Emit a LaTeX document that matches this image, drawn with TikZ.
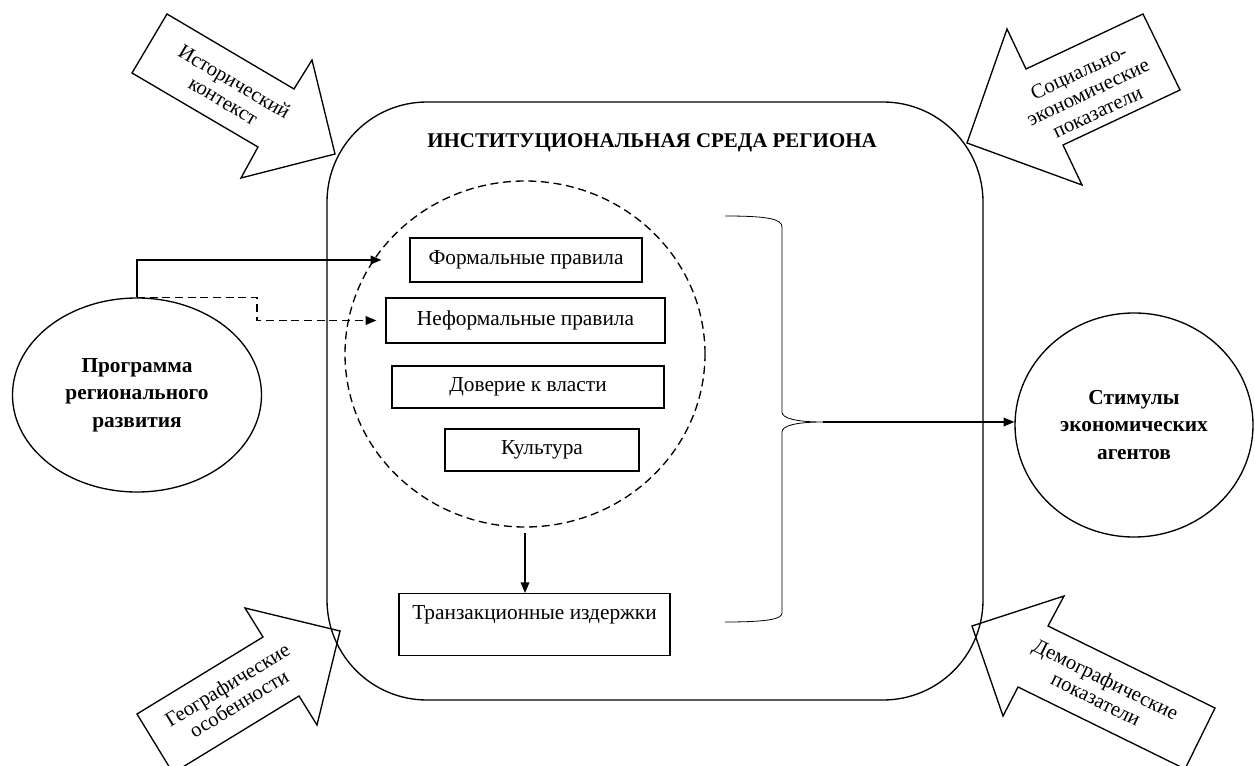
\documentclass[tikz,border=0pt]{standalone}
\usepackage{fontspec}
\setmainfont{Liberation Serif}
\usetikzlibrary{arrows.meta,shapes.geometric}
\begin{document}
\begin{tikzpicture}[x=0.75pt,y=-0.75pt,
  every node/.style={font=\fontsize{16}{19.5}\selectfont},
  line/.style={line width=1pt},
  box/.style={draw,line width=1pt,inner sep=0pt},
  ell/.style={draw,ellipse,line width=1pt,inner sep=0pt,align=center,font=\fontsize{16}{20.5}\selectfont\bfseries},
  barrow/.style={draw,line width=1pt,line join=miter,fill=white},
  atext/.style={align=center,font=\fontsize{15.5}{16.5}\selectfont},
  tip/.style={-{Triangle[length=8pt,width=6.5pt]}},
  dsh/.style={dash pattern=on 6pt off 3.5pt}
]
\useasboundingbox (0,0) rectangle (1255,766);

% block arrows
\draw[barrow] (167,14) -- (294,89) -- (312,60) -- (335,154) -- (241,178) -- (258,147) -- (132,73) -- cycle;
\node[atext,rotate=-30.6] (hist) at (229,91) {Исторический\\контекст};

\draw[barrow] (1143,14) -- (1180,90) -- (1063,145) -- (1082,185) -- (967,143) -- (1007,29) -- (1026,69) -- cycle;
\node[atext,rotate=25.2] (soc) at (1088,92) {Социально-\\экономические\\показатели};

\draw[barrow] (137,714) -- (263,637) -- (245,608) -- (340,631) -- (317,725) -- (299,696) -- (173,773) -- cycle;
\node[atext,rotate=31.4] (geo) at (233,694) {Географические\\особенности};

\draw[barrow] (972,626) -- (1064,596) -- (1048,626) -- (1215,708) -- (1185,769) -- (1018,687) -- (1003,716) -- cycle;
\node[atext,rotate=-26.2] (dem) at (1101,689) {Демографические\\показатели};

% frame
\draw[line,rounded corners=75pt] (327,102) rectangle (983,700);
\node[font=\fontsize{15.7}{18}\selectfont\bfseries] (title) at (652,143) {ИНСТИТУЦИОНАЛЬНАЯ СРЕДА РЕГИОНА};

% dashed circle
\node[draw,ellipse,dsh,line width=1pt,minimum width=270pt,minimum height=259.5pt,inner sep=0pt] (inst) at (525,354) {};

% boxes
\node[box,minimum width=174pt,minimum height=33pt] (formal) at (526,260) {Формальные правила};
\node[box,minimum width=209.25pt,minimum height=33.75pt] (informal) at (525.5,320.5) {Неформальные правила};
\node[box,minimum width=204pt,minimum height=31.5pt] (trust) at (528,387) {Доверие к власти};
\node[box,minimum width=145.5pt,minimum height=31.5pt] (culture) at (542,450) {Культура};
\node[box,minimum width=203.25pt,anchor=north,inner ysep=6pt,text height=13pt,text depth=21.5pt] (trans) at (534.5,593) {Транзакционные издержки};

\draw[line,tip] ([yshift=-4pt]inst.south) -- (inst.south |- trans.north);

% ellipses
\node[ell,minimum width=186.75pt,minimum height=145.5pt] (prog) at (137,395) {Программа\\регионального\\развития};
\node[ell,minimum width=178.5pt,minimum height=168pt] (stim) at (1134,425) {Стимулы\\экономических\\агентов};

% connectors
\draw[line,tip] (prog.north) |- ([xshift=-21pt]formal.west);
\draw[line,dsh,tip] (prog.north) -- ++(120,0) |- ([xshift=-6.75pt]informal.west);

% brace
\coordinate (bt) at (823,422);
\draw[line width=0.6pt] (725,216) .. controls (768,216) and (782,219) .. (782,227) -- (782,412) .. controls (782,418) and (795,422) .. (bt) .. controls (795,422) and (782,426) .. (782,432) -- (782,613) .. controls (782,619) and (768,622) .. (725,622);
\draw[line,tip] (bt) -- (bt -| stim.west);
\end{tikzpicture}
\end{document}
